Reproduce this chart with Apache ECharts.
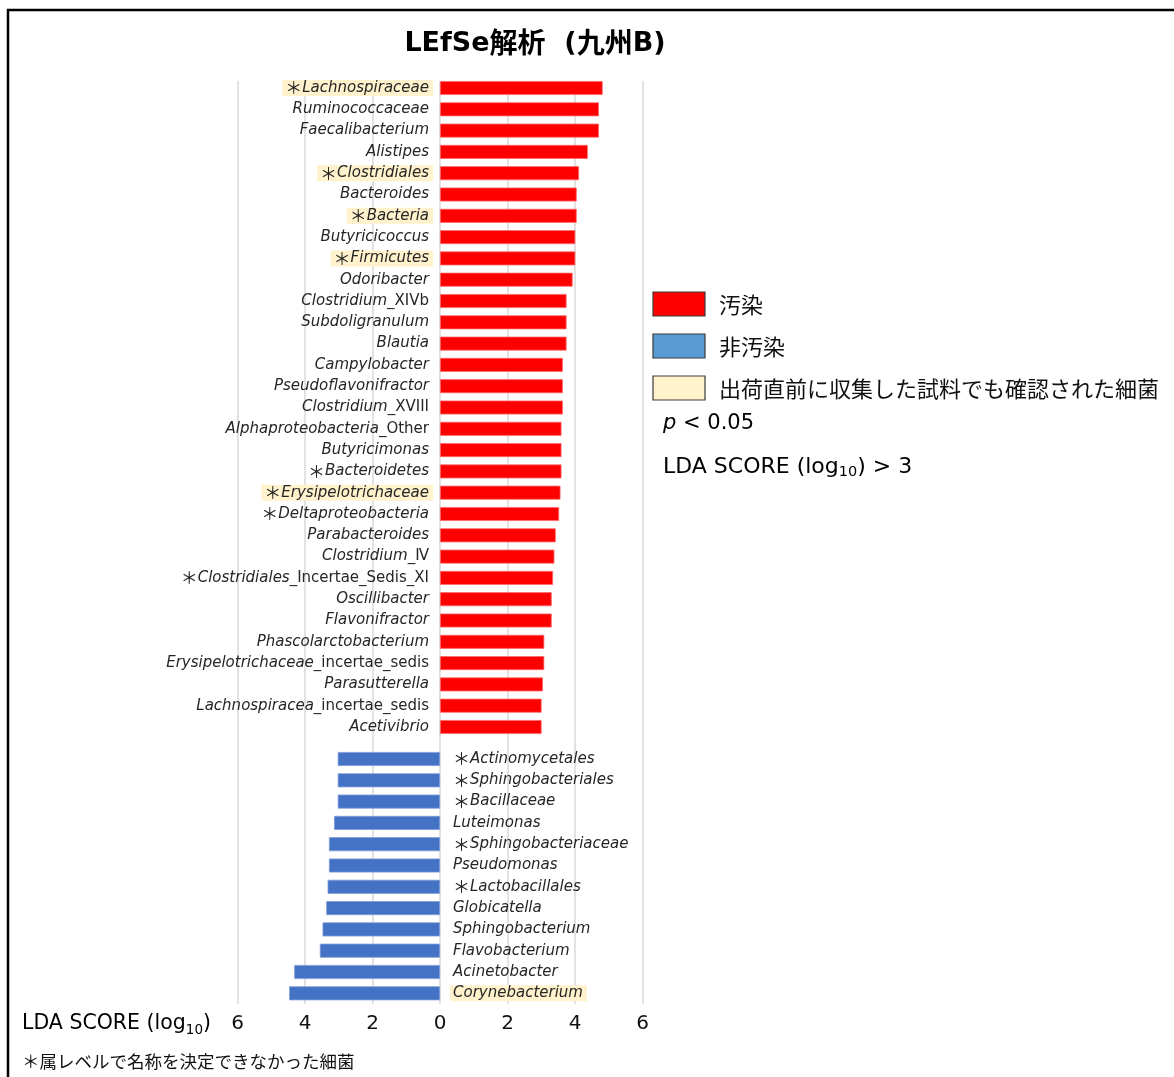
<!DOCTYPE html>
<html>
<head>
<meta charset="utf-8">
<title>LEfSe解析 (九州B)</title>
<script src="https://cdn.jsdelivr.net/npm/echarts@6/dist/echarts.min.js"></script>
<style>
  html, body { margin: 0; padding: 0; background: #fff; }
  #chart { width: 1174px; height: 1077px; }
</style>
</head>
<body>
<div id="chart"></div>
<script>
// Taxa enriched in the contaminated group (red), top to bottom
const enrichedTaxa = [
  '＊Lachnospiraceae', 'Ruminococcaceae', 'Faecalibacterium', 'Alistipes',
  '＊Clostridiales', 'Bacteroides', '＊Bacteria', 'Butyricicoccus',
  '＊Firmicutes', 'Odoribacter', 'Clostridium_XIVb', 'Subdoligranulum',
  'Blautia', 'Campylobacter', 'Pseudoflavonifractor', 'Clostridium_XVIII',
  'Alphaproteobacteria_Other', 'Butyricimonas', '＊Bacteroidetes',
  '＊Erysipelotrichaceae', '＊Deltaproteobacteria', 'Parabacteroides',
  'Clostridium_Ⅳ', '＊Clostridiales_Incertae_Sedis_XI', 'Oscillibacter',
  'Flavonifractor', 'Phascolarctobacterium', 'Erysipelotrichaceae_incertae_sedis',
  'Parasutterella', 'Lachnospiracea_incertae_sedis', 'Acetivibrio'
];
const enrichedLDA = [
  4.82, 4.71, 4.71, 4.38, 4.12, 4.05, 4.05, 4.01, 4.01, 3.93,
  3.75, 3.75, 3.75, 3.64, 3.64, 3.64, 3.60, 3.60, 3.60, 3.57,
  3.53, 3.43, 3.39, 3.35, 3.31, 3.31, 3.09, 3.09, 3.05, 3.01, 3.01
];

// Taxa enriched in the non-contaminated group (blue), top to bottom
const depletedTaxa = [
  '＊Actinomycetales', '＊Sphingobacteriales', '＊Bacillaceae', 'Luteimonas',
  '＊Sphingobacteriaceae', 'Pseudomonas', '＊Lactobacillales', 'Globicatella',
  'Sphingobacterium', 'Flavobacterium', 'Acinetobacter', 'Corynebacterium'
];
const depletedLDA = [
  3.03, 3.03, 3.03, 3.14, 3.29, 3.29, 3.33, 3.37, 3.48, 3.56, 4.32, 4.47
];

// Taxa also detected in samples collected just before shipping
const confirmedTaxa = [
  '＊Lachnospiraceae', '＊Clostridiales', '＊Bacteria', '＊Firmicutes',
  '＊Erysipelotrichaceae', 'Corynebacterium'
];

const ldaTicks = { min: -6, max: 6, step: 2 };

const RED = '#FF0000';
const BLUE_BAR = '#4472C4';
const BLUE_KEY = '#5B9BD5';
const CREAM = '#FFF2CC';
const TEXT = '#262626';
const LATIN = 'DejaVu Sans';
const CJK = '"Noto Sans CJK JP", "Noto Sans CJK SC", sans-serif';

// Genus/family names are italic; rank suffixes after "_" and the marker are upright
function taxonLabel(name) {
  let out = '';
  let rest = name;
  if (rest.charAt(0) === '＊') { out += '{ast|＊}'; rest = rest.slice(1); }
  const cut = rest.indexOf('_');
  if (cut >= 0) out += '{it|' + rest.slice(0, cut) + '}{up|' + rest.slice(cut) + '}';
  else out += '{it|' + rest + '}';
  return out;
}

// per-item text styles don't inherit align, so it is repeated on highlighted items
function categoryData(names, align) {
  return names.map(n => confirmedTaxa.includes(n)
    ? { value: n, textStyle: { backgroundColor: CREAM, align: align } }
    : { value: n });
}

const labelRich = {
  it:  { fontFamily: LATIN, fontStyle: 'italic', fontSize: 15, lineHeight: 14, color: TEXT },
  up:  { fontFamily: LATIN, fontStyle: 'normal', fontSize: 15, lineHeight: 14, color: TEXT },
  ast: { fontFamily: CJK, fontStyle: 'normal', fontSize: 17, lineHeight: 14, color: TEXT }
};

const PLOT_LEFT = 237.5, PLOT_WIDTH = 405;
const ZERO_X = PLOT_LEFT + PLOT_WIDTH / 2;
const ROW = 21.3;

const hiddenX = (gi) => ({
  type: 'value', gridIndex: gi, show: false,
  min: ldaTicks.min, max: ldaTicks.max, interval: ldaTicks.step
});

// category axes sit at the grid's left edge; labels are pushed to the zero line
const taxonAxis = (gi, names, side) => {
  const align = side === 'left' ? 'right' : 'left';
  return {
    type: 'category', gridIndex: gi, inverse: true, position: 'left',
    data: categoryData(names, align),
    axisLine: { show: false, onZero: false },
    axisTick: { show: false },
    splitLine: { show: false },
    z: 5,
    axisLabel: {
      interval: 0,
      align: align,
      margin: side === 'left' ? -(ZERO_X - 7 - PLOT_LEFT) : -(ZERO_X + 10 - PLOT_LEFT),
      padding: [1, 4, 1, 3],
      formatter: taxonLabel, rich: labelRich
    }
  };
};

const chart = echarts.init(document.getElementById('chart'), null, { renderer: 'canvas' });

const latinRich = (size, subSize) => ({
  a: { fontFamily: LATIN, fontSize: size, lineHeight: 26, color: '#111' },
  i: { fontFamily: LATIN, fontStyle: 'italic', fontSize: size, lineHeight: 26, color: '#111' },
  s: { fontFamily: LATIN, fontSize: subSize, lineHeight: 14, verticalAlign: 'bottom', color: '#111' }
});

chart.setOption({
  backgroundColor: '#fff',
  animation: false,
  grid: [
    // shared scale with vertical guide lines and tick labels
    { left: PLOT_LEFT, width: PLOT_WIDTH, top: 81, height: 923, containLabel: false, outerBoundsMode: 'none' },
    // contaminated-group bars
    { left: PLOT_LEFT, width: PLOT_WIDTH, top: 88 - ROW / 2, height: ROW * enrichedTaxa.length, containLabel: false, outerBoundsMode: 'none' },
    // non-contaminated-group bars
    { left: PLOT_LEFT, width: PLOT_WIDTH, top: 759 - ROW / 2, height: ROW * depletedTaxa.length, containLabel: false, outerBoundsMode: 'none' }
  ],
  xAxis: [
    {
      type: 'value', gridIndex: 0,
      min: ldaTicks.min, max: ldaTicks.max, interval: ldaTicks.step,
      axisLine: { show: false }, axisTick: { show: false },
      splitLine: { show: true, lineStyle: { color: '#d9d9d9', width: 1.5 } },
      axisLabel: {
        margin: 10, fontSize: 20, fontFamily: LATIN, color: '#111',
        formatter: v => String(Math.abs(v))
      }
    },
    hiddenX(1),
    hiddenX(2)
  ],
  yAxis: [
    { type: 'value', gridIndex: 0, show: false, min: 0, max: 1 },
    taxonAxis(1, enrichedTaxa, 'left'),
    taxonAxis(2, depletedTaxa, 'right')
  ],
  series: [
    {
      name: '汚染', type: 'bar', xAxisIndex: 1, yAxisIndex: 1,
      data: enrichedLDA, barWidth: 14,
      itemStyle: { color: RED, borderColor: '#ff6a6a', borderWidth: 0.8 }
    },
    {
      name: '非汚染', type: 'bar', xAxisIndex: 2, yAxisIndex: 2,
      data: depletedLDA.map(v => -v), barWidth: 14,
      itemStyle: { color: BLUE_BAR, borderColor: '#7c9bd8', borderWidth: 0.8 }
    }
  ],
  graphic: [
    // frame
    {
      type: 'rect', silent: true,
      shape: { x: 8, y: 10, width: 1400, height: 1300 },
      style: { fill: 'none', stroke: '#000', lineWidth: 2.5 }
    },
    // title
    {
      type: 'text', x: 535, y: 42,
      style: {
        text: '{l|LEfSe}{c|解析}{l|  (}{c|九州}{l|B)}', align: 'center', verticalAlign: 'middle',
        rich: {
          l: { fontFamily: LATIN, fontWeight: 'bold', fontSize: 27, lineHeight: 34, padding: [4, 0, 0, 0], color: '#000' },
          c: { fontFamily: CJK, fontWeight: 'bold', fontSize: 28, lineHeight: 34, color: '#000' }
        }
      }
    },
    // key
    { type: 'rect', shape: { x: 653, y: 292, width: 52, height: 24 }, style: { fill: RED, stroke: '#3a3a3a', lineWidth: 1.2 } },
    { type: 'rect', shape: { x: 653, y: 334, width: 52, height: 24 }, style: { fill: BLUE_KEY, stroke: '#3a3a3a', lineWidth: 1.2 } },
    { type: 'rect', shape: { x: 653, y: 376, width: 52, height: 24 }, style: { fill: CREAM, stroke: '#3a3a3a', lineWidth: 1.2 } },
    { type: 'text', x: 719, y: 305, style: { text: '汚染', verticalAlign: 'middle', fontFamily: CJK, fontSize: 22, fill: '#111' } },
    { type: 'text', x: 719, y: 347, style: { text: '非汚染', verticalAlign: 'middle', fontFamily: CJK, fontSize: 22, fill: '#111' } },
    { type: 'text', x: 719, y: 389, style: { text: '出荷直前に収集した試料でも確認された細菌', verticalAlign: 'middle', fontFamily: CJK, fontSize: 22, fill: '#111' } },
    {
      type: 'text', x: 663, y: 424,
      style: { text: '{i|p}{a| < 0.05}', verticalAlign: 'middle', rich: latinRich(21, 14) }
    },
    {
      type: 'text', x: 663, y: 467,
      style: { text: '{a|LDA SCORE (log}{s|10}{a|) > 3}', verticalAlign: 'middle', rich: latinRich(22, 14.5) }
    },
    // axis title
    {
      type: 'text', x: 22, y: 1024,
      style: { text: '{a|LDA SCORE (log}{s|10}{a|)}', verticalAlign: 'middle', rich: latinRich(20.5, 13.5) }
    },
    // footnote
    {
      type: 'text', x: 22, y: 1061,
      style: {
        text: '＊属レベルで名称を決定できなかった細菌', verticalAlign: 'middle',
        fontFamily: CJK, fontSize: 17.5, fill: '#111'
      }
    }
  ]
});
</script>
</body>
</html>
